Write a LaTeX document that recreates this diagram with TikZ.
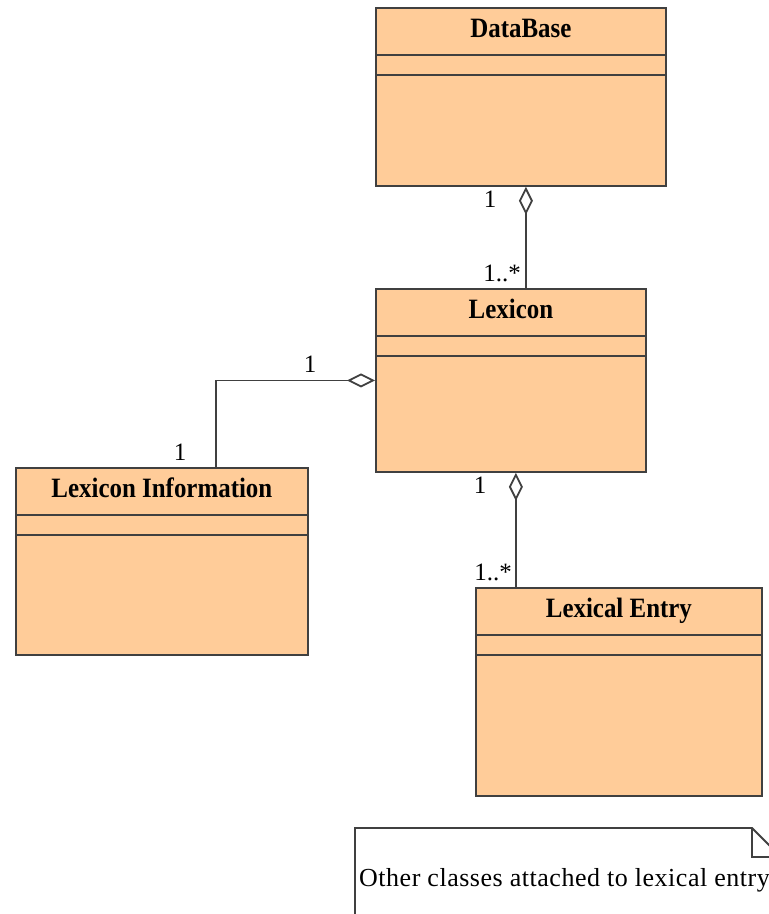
\documentclass[tikz,border=0pt]{standalone}
\usepackage{fontspec}
\setmainfont{Liberation Serif}
\usetikzlibrary{arrows.meta,calc}
\definecolor{classfill}{HTML}{FFCC99}
\definecolor{umlline}{HTML}{404040}
\newcommand\condensed[1]{\scalebox{0.89}[1]{#1}}
\tikzset{
  classbox/.style={draw=umlline, fill=classfill, line width=1.8pt, rectangle,
    inner sep=0pt, anchor=north west},
  classtitle/.style={font=\fontsize{28}{30}\selectfont\bfseries, anchor=base, inner sep=0pt},
  sepline/.style={draw=umlline, line width=1.8pt},
  mult/.style={font=\fontsize{25}{27}\selectfont, inner sep=0pt},
  aggr/.style={draw=umlline, line width=1.8pt,
    {Diamond[open, length=28pt, width=14pt, line width=1.8pt]}-},
  notebox/.style={draw=umlline, fill=white, line width=1.8pt},
}
\begin{document}
\begin{tikzpicture}[x=1pt, y=-1pt]
  \useasboundingbox (0,0) rectangle (769,914);
  \clip (0,0) rectangle (769,914);

  % class boxes
  \node[classbox, minimum width=290pt, minimum height=178pt] (db) at (375,7) {};
  \node[classbox, minimum width=270pt, minimum height=183pt] (lex) at (375,288) {};
  \node[classbox, minimum width=292pt, minimum height=187pt] (info) at (15,467) {};
  \node[classbox, minimum width=286pt, minimum height=208pt] (entry) at (475,587) {};

  % compartments and names
  \foreach \c/\t in {db/DataBase, lex/Lexicon, info/Lexicon Information, entry/Lexical Entry}{
    \draw[sepline] ($(\c.north west)+(0,48)$) -- ($(\c.north east)+(0,48)$);
    \draw[sepline] ($(\c.north west)+(0,68)$) -- ($(\c.north east)+(0,68)$);
    \node[classtitle] (\c-name) at ($(\c.north)+(0,30)$) {\condensed{\t}};
  }

  % aggregations
  \coordinate (a1) at ($(db.south)+(5,0)$);
  \draw[aggr] (a1) -- (a1 |- lex.north);
  \coordinate (b1) at ($(info.north)+(54,0)$);
  \draw[aggr] (lex.west) -| (b1);
  \coordinate (c1) at ($(lex.south)+(5,0)$);
  \draw[aggr] (c1) -- (c1 |- entry.north);

  % multiplicities
  \node[mult, anchor=base] (m1) at (490,207) {1};
  \node[mult, anchor=base east] (m2) at (521,281) {1..*};
  \node[mult, anchor=base] (m3) at (310,372) {1};
  \node[mult, anchor=base] (m4) at (180,460) {1};
  \node[mult, anchor=base] (m5) at (480,493) {1};
  \node[mult, anchor=base east] (m6) at (512,580) {1..*};

  % note
  \draw[notebox] (355,940) -- (355,828) -- (752,828) -- (781,857) -- (781,940) -- cycle;
  \draw[sepline] (752,828) -- (752,857) -- (781,857);
  \node[font=\fontsize{26}{28}\selectfont\addfontfeature{LetterSpace=2}, anchor=base west, inner sep=0pt]
    (note) at (359,886) {Other classes attached to lexical entry};
\end{tikzpicture}
\end{document}
